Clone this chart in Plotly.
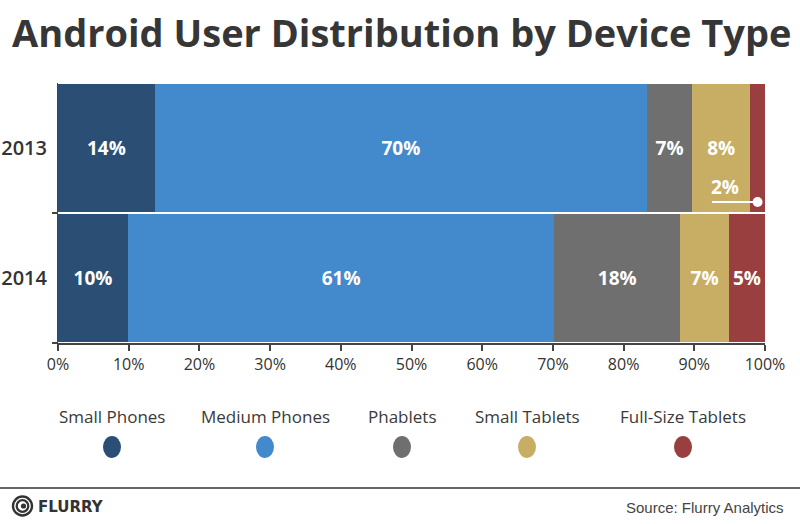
import plotly.graph_objects as go

years = ["2013", "2014"]
categories = ["Small Phones", "Medium Phones", "Phablets", "Small Tablets", "Full-Size Tablets"]
values_2013 = [13.7, 69.6, 6.4, 8.2, 2.1]
values_2014 = [9.9, 60.3, 17.8, 6.9, 5.1]
labels_2013 = ["14%", "70%", "7%", "8%", ""]
labels_2014 = ["10%", "61%", "18%", "7%", "5%"]
colors = ["#2A4E74", "#438ACD", "#6F6F6F", "#C8AE65", "#9A3F40"]
x_ticks = [0, 10, 20, 30, 40, 50, 60, 70, 80, 90, 100]
x_ticktext = [f"{t}%" for t in x_ticks]
callout_label = "2%"

# layout geometry (pixels)
W, H = 800, 524
L, R, T, B = 58, 765, 83, 343

def px(x):
    return (x - L) / (R - L)

def py(y):
    return (B - y) / (B - T)

fig = go.Figure()
for i, cat in enumerate(categories):
    fig.add_trace(go.Bar(
        orientation="h",
        y=[0, 1],
        x=[values_2013[i], values_2014[i]],
        name=cat,
        marker=dict(color=colors[i], line=dict(width=0)),
        text=[labels_2013[i], labels_2014[i]],
        textposition="inside",
        insidetextanchor="middle",
        textangle=0,
        constraintext="none",
        textfont=dict(family="Open Sans", size=19, color="white", weight="bold"),
        showlegend=False,
        hoverinfo="skip",
    ))

# callout for the small 2013 full-size tablets value
x_start_2013 = sum(values_2013[:4])
fig.add_trace(go.Scatter(
    x=[x_start_2013 - 5.4, x_start_2013 + values_2013[4] / 2],
    y=[0.415, 0.415],
    mode="lines",
    line=dict(color="white", width=2),
    showlegend=False,
    hoverinfo="skip",
))
fig.add_trace(go.Scatter(
    x=[x_start_2013 + values_2013[4] / 2],
    y=[0.415],
    mode="markers",
    marker=dict(size=10, color="#FFFFFF", opacity=1, line=dict(width=0)),
    showlegend=False,
    hoverinfo="skip",
))
fig.add_annotation(x=x_start_2013 - 3.6, y=0.3, xref="x", yref="y", text=callout_label,
                   showarrow=False,
                   font=dict(family="Open Sans", size=19, color="white", weight="bold"))

# title
fig.add_annotation(x=px(401), y=py(32), xref="paper", yref="paper",
                   text="Android User Distribution by Device Type",
                   showarrow=False, xanchor="center", yanchor="middle",
                   font=dict(family="Open Sans", size=38, color="#363636", weight="bold"))

# legend (text above coloured dots)
legend_x = [112, 265, 402, 527, 683]
shapes = []
for cx, cat, col in zip(legend_x, categories, colors):
    fig.add_annotation(x=px(cx), y=py(416), xref="paper", yref="paper", text=cat, showarrow=False,
                       xanchor="center", yanchor="middle",
                       font=dict(family="Open Sans", size=17, color="#3a3a3a"))
    shapes.append(dict(type="circle", xref="paper", yref="paper", xsizemode="pixel", ysizemode="pixel",
                       xanchor=px(cx), yanchor=py(447), x0=-9, x1=9, y0=-11, y1=11,
                       fillcolor=col, line=dict(width=0)))

# footer line
shapes.append(dict(type="line", xref="paper", yref="paper", x0=px(0), x1=px(800), y0=py(488), y1=py(488),
                   line=dict(color="#666666", width=2)))
# flurry logo rings
for r, w in [(9.5, 2.4), (5.8, 2.2)]:
    shapes.append(dict(type="circle", xref="paper", yref="paper", xsizemode="pixel", ysizemode="pixel",
                       xanchor=px(22.5), yanchor=py(506), x0=-r, x1=r, y0=-r, y1=r,
                       line=dict(color="#333333", width=w)))
shapes.append(dict(type="circle", xref="paper", yref="paper", xsizemode="pixel", ysizemode="pixel",
                   xanchor=px(23.5), yanchor=py(506), x0=-2.6, x1=2.6, y0=-2.6, y1=2.6,
                   fillcolor="#333333", line=dict(width=0)))
fig.add_annotation(x=px(36), y=py(507), xref="paper", yref="paper", text="FLURRY", showarrow=False,
                   xanchor="left", yanchor="middle",
                   font=dict(family="DejaVu Sans", size=15, color="#333333", weight="bold"))
fig.add_annotation(x=px(786), y=py(507), xref="paper", yref="paper", text="Source: Flurry Analytics",
                   showarrow=False, xanchor="right", yanchor="middle",
                   font=dict(family="Liberation Sans", size=15, color="#444444"))

fig.update_layout(
    width=W, height=H,
    margin=dict(l=L, r=W - R, t=T, b=H - B, pad=0, autoexpand=False),
    barmode="stack", bargap=0.016,
    plot_bgcolor="white", paper_bgcolor="white",
    shapes=shapes,
    xaxis=dict(range=[0, 100], tickvals=x_ticks, ticktext=x_ticktext, showgrid=False, zeroline=False,
               showline=True, linecolor="#444444", linewidth=1.5, ticks="outside", ticklen=6,
               tickcolor="#444444", tickwidth=1.5, automargin=False,
               tickfont=dict(family="Open Sans", size=16, color="#333333")),
    yaxis=dict(range=[1.5, -0.5], tickvals=[0, 1], ticktext=years, showgrid=False, zeroline=False,
               showline=True, linecolor="#444444", linewidth=1, ticks="", ticklabelstandoff=6,
               automargin=False,
               minor=dict(tickvals=[0.5, 1.5], ticks="outside", ticklen=5, tickcolor="#444444",
                          tickwidth=1.5, showgrid=False),
               tickfont=dict(family="Open Sans", size=20, color="#333333", weight=600)),
    font=dict(family="Open Sans"),
)

fig.write_html("out.html", config={"displayModeBar": False},
               post_script="document.body.style.margin='0px';")
